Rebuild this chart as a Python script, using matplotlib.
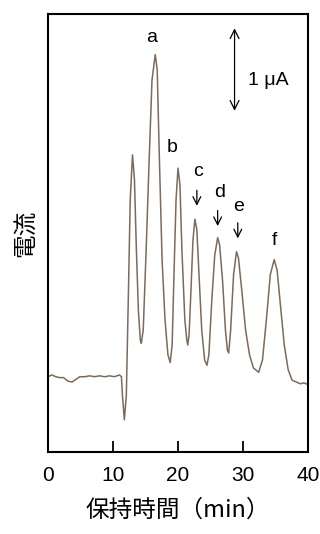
import matplotlib
matplotlib.use('Agg')
import matplotlib.pyplot as plt

plt.rcParams['font.family'] = ['Liberation Sans', 'Noto Sans CJK JP', 'DejaVu Sans']

# chromatogram trace (time in min, current in uA above baseline)
time_min = [0.0, 0.6, 1.2, 1.8, 2.4, 3.05, 3.7, 4.3, 4.9, 5.65, 6.4, 7.2, 7.9, 8.7, 9.5,
            10.2, 11.0, 11.3, 11.45, 11.75, 12.05, 12.35, 12.65, 13.0, 13.3, 13.6, 13.9,
            14.2, 14.35, 14.65, 15.1, 15.55, 16.0, 16.5, 16.8, 17.1, 17.55, 18.0, 18.45,
            18.8, 19.1, 19.4, 19.7, 20.0, 20.3, 20.6, 21.05, 21.35, 21.5, 21.7, 22.0,
            22.3, 22.6, 22.9, 23.2, 23.65, 24.1, 24.45, 24.75, 25.2, 25.65, 26.1, 26.4,
            26.85, 27.3, 27.6, 27.8, 28.1, 28.55, 29.0, 29.3, 29.8, 30.4, 31.0, 31.6,
            32.4, 33.0, 33.6, 34.2, 34.8, 35.25, 35.75, 36.35, 36.95, 37.55, 38.2, 38.8,
            39.4, 40.0]
current_ua = [-0.02, 0.0, -0.02, -0.03, -0.03, -0.07, -0.08, -0.05, -0.02, -0.02, -0.01,
              -0.02, -0.01, -0.02, -0.01, -0.02, 0.0, -0.02, -0.23, -0.51, -0.23, 0.85,
              1.99, 2.50, 2.22, 1.42, 0.74, 0.40, 0.36, 0.51, 1.42, 2.42, 3.35, 3.64,
              3.47, 2.56, 1.31, 0.63, 0.23, 0.14, 0.34, 1.19, 1.99, 2.35, 2.16, 1.42,
              0.63, 0.40, 0.34, 0.45, 0.97, 1.53, 1.77, 1.65, 1.19, 0.51, 0.17, 0.11,
              0.23, 0.85, 1.36, 1.56, 1.48, 1.08, 0.51, 0.28, 0.25, 0.51, 1.14, 1.40,
              1.33, 0.97, 0.51, 0.23, 0.08, 0.03, 0.17, 0.63, 1.14, 1.31, 1.19, 0.80,
              0.34, 0.06, -0.06, -0.08, -0.10, -0.09, -0.11]

peak_labels = ['a', 'b', 'c', 'd', 'e', 'f']
label_time = [15.9, 19.1, 23.05, 26.4, 29.3, 34.8]
label_current = [3.83, 2.59, 2.31, 2.07, 1.91, 1.53]
arrow_time = [22.9, 26.1, 29.2]
arrow_top = [2.13, 1.90, 1.76]
arrow_len = 0.24

fig = plt.figure(figsize=(3.2, 5.34), dpi=100)
ax = fig.add_axes([0.15, 0.1536, 0.8125, 0.82])

ax.plot(time_min, current_ua, color='#7d6a5a', lw=1.1)

for lab, t, y in zip(peak_labels, label_time, label_current):
    ax.text(t, y, lab, fontsize=14, ha='center', va='center')

for t, y in zip(arrow_time, arrow_top):
    ax.annotate('', xy=(t, y - arrow_len), xytext=(t, y),
                arrowprops=dict(arrowstyle='->', lw=0.9, color='black',
                                mutation_scale=14))

# 1 uA scale bar
ax.annotate('', xy=(28.7, 2.97), xytext=(28.7, 3.97),
            arrowprops=dict(arrowstyle='<->', lw=0.9, color='black',
                            mutation_scale=16))
ax.text(30.8, 3.35, '1 μA', fontsize=14, va='center', ha='left')

ax.set_xlim(0, 40)
ax.set_ylim(-0.875, 4.10)
ax.set_xticks([0, 10, 20, 30, 40])
ax.set_yticks([])
ax.tick_params(axis='x', direction='in', length=8, width=1.3, labelsize=15, pad=10)
for s in ax.spines.values():
    s.set_linewidth(1.5)

ax.set_xlabel('保持時間（min）', fontsize=17, family=['Noto Sans CJK JP'], labelpad=10)
ax.set_ylabel('電流', fontsize=17, family=['Noto Sans CJK JP'], labelpad=8)

fig.savefig('out.png', dpi=100)
